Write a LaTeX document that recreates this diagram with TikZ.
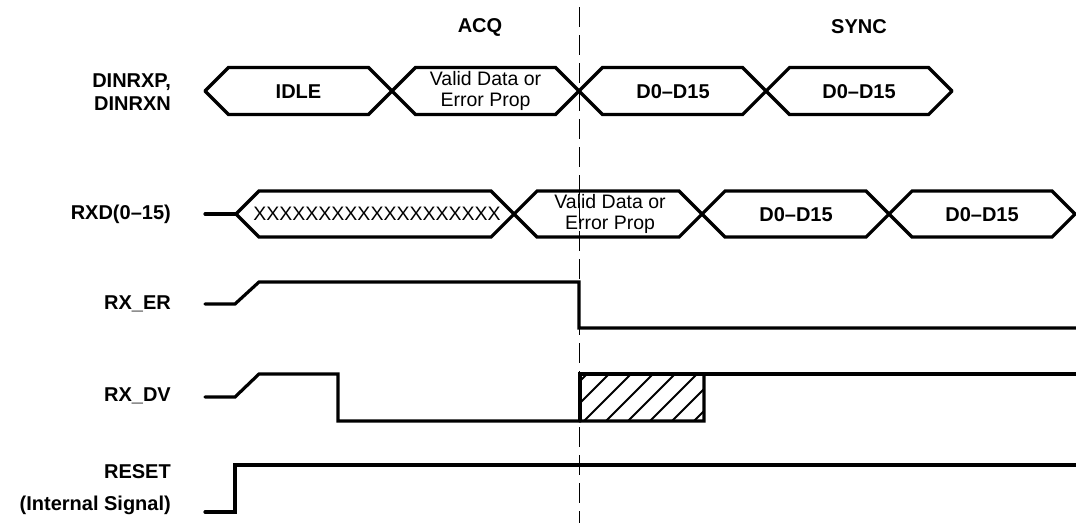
\documentclass[tikz,border=0pt]{standalone}
\usepackage{fontspec}
\setmainfont{Liberation Sans}
\begin{document}
\begin{tikzpicture}[x=1pt,y=-1pt,
  sig/.style={line width=3.2pt, line join=miter, line cap=round},
  lab/.style={font=\fontsize{20}{23}\selectfont\bfseries, anchor=east, align=right, inner sep=0pt},
  bold/.style={font=\fontsize{20}{23}\selectfont\bfseries, inner sep=0pt},
  reg/.style={font=\fontsize{19.5}{21}\selectfont, inner sep=0pt, align=center},
  hatch/.style={line width=1.9pt},
  marker/.style={line width=1pt, dash pattern=on 20pt off 8pt}]
\useasboundingbox (0,0) rectangle (1076,523);

% phase titles
\node[bold] (acq) at (480,27) {ACQ};
\node[bold] (sync) at (859,27) {SYNC};

% signal names
\node[lab] (ldin) at (171,92) {DINRXP,\\DINRXN};
\node[lab] (lrxd) at (171,214) {RXD(0--15)};
\node[lab] (ler) at (171,304) {RX\_ER};
\node[lab] (ldv) at (171,396) {RX\_DV};
\node[lab] (lrst) at (171,490) {RESET\\[9pt](Internal Signal)};

% DINRXP/DINRXN bus
\draw[sig] (205,91) -- (228.5,67.5) -- (368.5,67.5) -- (415.5,114.5) -- (555.5,114.5) -- (602.5,67.5) -- (742.5,67.5) -- (789.5,114.5) -- (928.5,114.5) -- (952,91);
\draw[sig] (205,91) -- (228.5,114.5) -- (368.5,114.5) -- (415.5,67.5) -- (555.5,67.5) -- (602.5,114.5) -- (742.5,114.5) -- (789.5,67.5) -- (928.5,67.5) -- (952,91);
\node[bold] (idle) at (298.5,92) {IDLE};
\node[reg] (v1) at (485.5,91) {Valid Data or\\Error Prop};
\node[bold] (d1) at (673,92) {D0--D15};
\node[bold] (d2) at (859,92) {D0--D15};

% RXD(0-15) bus
\draw[sig] (205,214) -- (236,214);
\draw[sig] (236,214) -- (259,191) -- (491,191) -- (537,237) -- (679,237) -- (725,191) -- (866,191) -- (912,237) -- (1052,237) -- (1075,214);
\draw[sig] (236,214) -- (259,237) -- (491,237) -- (537,191) -- (679,191) -- (725,237) -- (866,237) -- (912,191) -- (1052,191) -- (1075,214);
\node[reg] (xx) at (377,214) {XXXXXXXXXXXXXXXXXXX};
\node[reg] (v2) at (610,214) {Valid Data or\\Error Prop};
\node[bold] (d3) at (796,215) {D0--D15};
\node[bold] (d4) at (982,215) {D0--D15};

% RX_ER
\draw[sig] (205,304) -- (235,304) -- (259,282) -- (579,282) -- (579,328) -- (1076,328);

% RX_DV
\begin{scope}
  \clip (580,374) rectangle (704,421);
  \foreach \k in {-3,...,6} {
    \draw[hatch] ({584+22*\k},421) -- ({631+22*\k},374);
  }
\end{scope}
\draw[sig] (205,397) -- (235,397) -- (259,374) -- (338,374) -- (338,421) -- (704,421) -- (704,374);
\draw[sig] (580,421) -- (580,374) -- (1076,374);

% RESET
\draw[sig] (205,512) -- (235,512) -- (235,465) -- (1076,465);

% phase boundary
\draw[marker] (579,7) -- (579,523);
\end{tikzpicture}
\end{document}
